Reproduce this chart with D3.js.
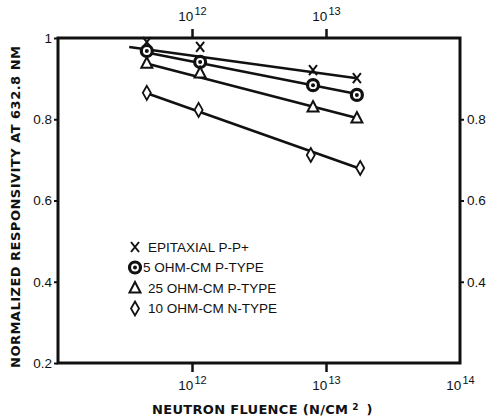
<!DOCTYPE html>
<style>
body { margin: 0; background: #fff; }
text { font-family: "Liberation Sans", Arial, sans-serif; fill: #111; }
.axis .domain { display: none; }
.axis line { stroke: #111; }
.title { font-family: "DejaVu Sans", sans-serif; font-weight: bold; }
</style>
<svg width="491" height="420"></svg>
<script src="https://d3js.org/d3.v7.min.js"></script>
<script>

// measured points (neutron fluence, normalized responsivity)
var seriesNames = ["EPITAXIAL P-P+", "5 OHM-CM P-TYPE", "25 OHM-CM P-TYPE", "10 OHM-CM N-TYPE"];
var seriesMarks = ["x", "bullseye", "triangle", "diamond"];
var fluenceX = [4.6e11, 1.15e12, 8.0e12, 1.7e13];
var fluenceDiamond = [4.6e11, 1.12e12, 7.7e12, 1.8e13];
var epiValues = [0.990, 0.978, 0.921, 0.901];
var ohm5Values = [0.968, 0.941, 0.884, 0.860];
var ohm25Values = [0.938, 0.914, 0.830, 0.803];
var ohm10Values = [0.865, 0.823, 0.712, 0.680];

// fitted straight lines, start / end
var fitX = [[3.4e11, 1.7e13], [4.3e11, 1.7e13], [4.5e11, 1.7e13], [4.5e11, 1.8e13]];
var fitY = [[0.978, 0.901], [0.966, 0.862], [0.938, 0.803], [0.865, 0.678]];

var bottomTicks = [1e12, 1e13, 1e14];
var topTicks = [1e12, 1e13];
var leftTicks = [0.2, 0.4, 0.6, 0.8, 1];
var rightTicks = [0.4, 0.6, 0.8];

var svg = d3.select("svg"),
    margin = {top: 38, right: 31, bottom: 57, left: 58},
    width = +svg.attr("width") - margin.left - margin.right,
    height = +svg.attr("height") - margin.top - margin.bottom,
    g = svg.append("g").attr("transform", "translate(" + margin.left + "," + margin.top + ")");

var x = d3.scaleLog().domain([1e11, 1e14]).range([0, width]);
var y = d3.scaleLinear().domain([0.2, 1]).range([height, 0]);

function tenPower(sel) {
  sel.each(function(d) {
    var t = d3.select(this);
    t.text(null);
    t.append("tspan").text("10");
    t.append("tspan").attr("dy", "-0.55em").attr("font-size", 11).attr("dx", 1).text(Math.round(Math.log10(d)));
  });
}

// bottom axis
var bx = g.append("g").attr("class", "axis")
    .attr("transform", "translate(0," + height + ")")
    .call(d3.axisBottom(x).tickValues(bottomTicks).tickSize(9).tickFormat(""));
bx.selectAll(".tick line").attr("stroke-width", 2.5).filter(function(d) { return d === 1e14; }).remove();
bx.selectAll(".tick").append("text")
    .attr("y", 27).attr("text-anchor", "middle").attr("font-size", 13.5)
    .call(tenPower);

// top axis
var tx = g.append("g").attr("class", "axis")
    .call(d3.axisTop(x).tickValues(topTicks).tickSize(9).tickFormat(""));
tx.selectAll(".tick line").attr("stroke-width", 2.5);
tx.selectAll(".tick").append("text")
    .attr("y", -17).attr("text-anchor", "middle").attr("font-size", 13.5)
    .call(tenPower);

// left axis
g.append("g").attr("class", "axis")
    .call(d3.axisLeft(y).tickValues(leftTicks).tickSize(4).tickPadding(2)
      .tickFormat(function(d) { return d === 1 ? "1" : d3.format(".1f")(d); }))
  .call(function(a) {
    a.selectAll(".tick line").attr("stroke-width", 2);
    a.selectAll(".tick text").attr("font-size", 13.5).attr("fill", "#111").attr("font-family", "Liberation Sans, Arial, sans-serif");
  });

// right axis
g.append("g").attr("class", "axis")
    .attr("transform", "translate(" + width + ",0)")
    .call(d3.axisRight(y).tickValues(rightTicks).tickSize(4).tickPadding(3).tickFormat(d3.format(".1f")))
  .call(function(a) {
    a.selectAll(".tick line").attr("stroke-width", 2);
    a.selectAll(".tick text").attr("font-size", 13.5).attr("fill", "#111").attr("font-family", "Liberation Sans, Arial, sans-serif");
  });

// frame
g.append("rect")
    .attr("width", width).attr("height", height)
    .attr("fill", "none").attr("stroke", "#111").attr("stroke-width", 3);

// axis titles
svg.append("text")
    .attr("class", "title")
    .attr("transform", "translate(20,207) rotate(-90)")
    .attr("text-anchor", "middle").attr("font-size", 13)
    .attr("textLength", 322).attr("lengthAdjust", "spacing")
    .text("NORMALIZED RESPONSIVITY AT 632.8 NM");

var xt = svg.append("text")
    .attr("class", "title")
    .attr("x", 152).attr("y", 414)
    .attr("font-size", 13);
xt.append("tspan").attr("textLength", 196).attr("lengthAdjust", "spacing").text("NEUTRON FLUENCE (N/CM");
xt.append("tspan").attr("dx", 4).attr("dy", -4).attr("font-size", 9).text("2");
xt.append("tspan").attr("dx", 8).attr("dy", 4).text(")");

// fitted lines
var line = d3.line().x(function(d) { return x(d[0]); }).y(function(d) { return y(d[1]); });
g.selectAll(".fit")
    .data(fitX.map(function(fx, i) { return [[fx[0], fitY[i][0]], [fx[1], fitY[i][1]]]; }))
  .enter().append("path")
    .attr("class", "fit")
    .attr("d", line)
    .attr("fill", "none").attr("stroke", "#111").attr("stroke-width", 2.6);

// markers
function drawMark(sel, type) {
  if (type === "x") {
    sel.append("path").attr("d", "M-4,-5L4,5M4,-5L-4,5")
      .attr("stroke", "#111").attr("stroke-width", 2).attr("fill", "none");
  } else if (type === "bullseye") {
    sel.append("circle").attr("r", 5.5).attr("fill", "#fff").attr("stroke", "#111").attr("stroke-width", 3.2);
    sel.append("circle").attr("r", 2).attr("fill", "#111");
  } else if (type === "triangle") {
    sel.append("path").attr("d", "M0,-6L5.5,4.5L-5.5,4.5Z")
      .attr("fill", "#fff").attr("stroke", "#111").attr("stroke-width", 2);
  } else {
    sel.append("path").attr("d", "M0,-7L4,0L0,7L-4,0Z")
      .attr("fill", "#fff").attr("stroke", "#111").attr("stroke-width", 1.8);
  }
}

var allValues = [epiValues, ohm5Values, ohm25Values, ohm10Values];
allValues.forEach(function(vals, i) {
  var xs = i === 3 ? fluenceDiamond : fluenceX;
  g.selectAll(".m" + i)
      .data(vals.map(function(v, j) { return [xs[j], v]; }))
    .enter().append("g")
      .attr("class", "m" + i)
      .attr("transform", function(d) { return "translate(" + x(d[0]) + "," + y(d[1]) + ")"; })
      .each(function() { drawMark(d3.select(this), seriesMarks[i]); });
});

// legend
var legend = svg.append("g").attr("font-size", 13.5)
  .selectAll("g")
  .data(seriesNames)
  .enter().append("g")
    .attr("transform", function(d, i) { return "translate(135," + (247 + i * 20.5) + ")"; });

legend.each(function(d, i) { drawMark(d3.select(this), seriesMarks[i]); });
legend.append("text")
    .attr("x", function(d, i) { return i === 1 ? 8 : 13; })
    .attr("dy", "0.36em")
    .text(function(d) { return d; });

</script>
